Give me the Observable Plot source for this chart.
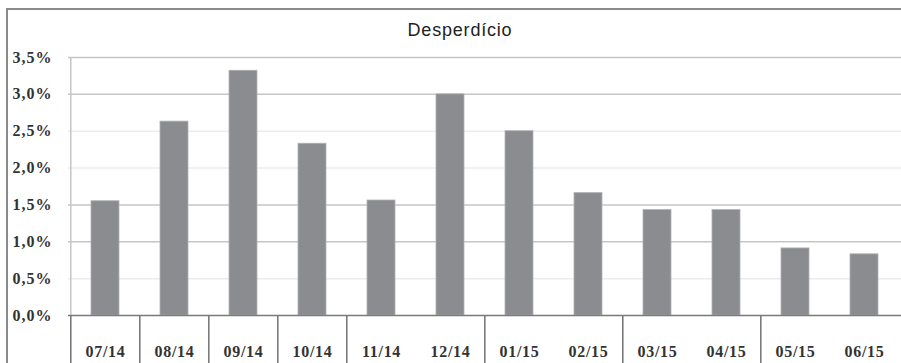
<!DOCTYPE html>
<html><head><meta charset="utf-8">
<script src="https://cdn.jsdelivr.net/npm/d3@7"></script>
<script src="https://cdn.jsdelivr.net/npm/@observablehq/plot@0.6"></script>
<style>
body{margin:0;background:#fff;}
#wrap{position:relative;width:901px;height:363px;overflow:hidden;}
#frame{position:absolute;left:6px;top:8px;width:1000px;height:400px;border-top:2px solid #8a8a8a;border-left:2px solid #8a8a8a;}
#title{position:absolute;left:0;top:21px;width:920px;text-align:center;font:18px "Liberation Sans",Arial,sans-serif;line-height:18px;letter-spacing:0.8px;color:#222;}
#chart{position:absolute;left:0;top:0;}
g[aria-label="y-axis tick label"] text{letter-spacing:1px;}
g[aria-label="x-axis tick label"] text{letter-spacing:0.7px;}
</style></head>
<body>
<div id="wrap"><div id="frame"></div><div id="chart"></div><div id="title">Desperdício</div></div>
<script>
const months = ["07/14","08/14","09/14","10/14","11/14","12/14","01/15","02/15","03/15","04/15","05/15","06/15"];
const waste = [1.55, 2.63, 3.32, 2.33, 1.56, 3.0, 2.50, 1.66, 1.43, 1.43, 0.91, 0.83];
const separatorsBefore = ["07/14","08/14","09/14","10/14","11/14","01/15","03/15","05/15"];
const yTicks = [0, 0.5, 1, 1.5, 2, 2.5, 3, 3.5];
const gridMain = [1, 1.5, 3, 3.5];
const gridFaint = [0.5, 2, 2.5];

const data = months.map((m, i) => ({month: m, value: waste[i]}));
const W = 901, H = 363, ML = 68, MR = 0;
const step = (W - ML - MR) / months.length;
const fmt = d => d.toFixed(1).replace(".", ",") + "%";

const plot = Plot.plot({
  width: W, height: H,
  marginTop: 57, marginBottom: 48, marginLeft: ML, marginRight: MR,
  style: {background: "transparent", overflow: "visible"},
  x: {domain: months, paddingInner: 0.6, paddingOuter: 0.3},
  y: {domain: [0, 3.5]},
  marks: [
    Plot.ruleY(gridFaint, {stroke: "#ececec", strokeWidth: 1.5}),
    Plot.ruleY(gridMain, {stroke: "#c6c6c6", strokeWidth: 1.5}),
    Plot.ruleX([months[0]], {dx: -step / 2, y1: 0, y2: 3.5, stroke: "#c6c6c6", strokeWidth: 1.5}),
    Plot.barY(data, {x: "month", y: "value", fill: "#8b8c90", stroke: "#b0b1b4", strokeWidth: 0.8}),
    Plot.ruleY([0], {stroke: "#7a7a7a", strokeWidth: 1.6}),
    Plot.ruleX(separatorsBefore, {x: d => d, dx: -step / 2, y1: 0, y2: -0.7, stroke: "#7a7a7a", strokeWidth: 1.6}),
    Plot.axisY({ticks: yTicks, tickFormat: fmt, tickSize: 0, tickPadding: 16, fontSize: 16, fontWeight: "bold", fontFamily: "'Liberation Serif', 'Times New Roman', serif", fill: "#333", label: null}),
    Plot.axisX({tickSize: 0, tickPadding: 30, fontSize: 16, fontWeight: "bold", fontFamily: "'Liberation Serif', 'Times New Roman', serif", fill: "#333", label: null})
  ]
});
document.getElementById("chart").appendChild(plot);
</script>
</body></html>
